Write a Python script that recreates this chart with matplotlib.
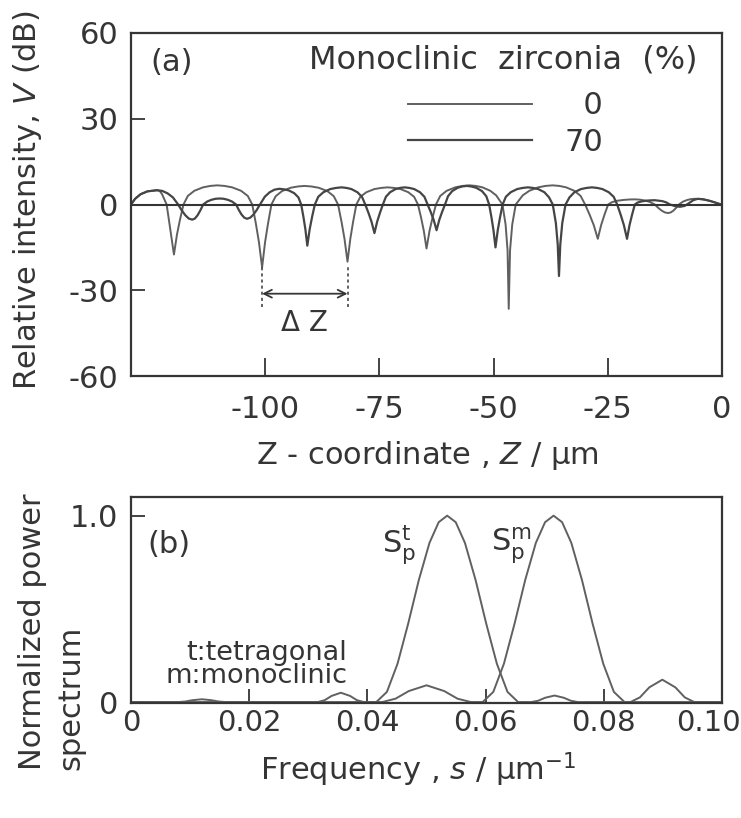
import matplotlib
matplotlib.use('Agg')
import matplotlib.pyplot as plt
from matplotlib.lines import Line2D
from matplotlib.transforms import ScaledTranslation

# (a) V(z) curves: Z in um, V in dB
z_0 = [-129.4, -128.5, -127.3, -125.8, -123.7, -123.1, -122.6, -122.1, -121.6, -121.0, -120.5, -120.0,
       -119.335, -118.67, -117.91, -116.96, -115.535, -113.635, -112.02, -110.5,
       -108.932, -107.266, -105.306, -103.836, -102.856, -102.072, -101.386, -100.7,
       -100.049, -99.398, -98.654, -97.724, -96.329, -94.469, -92.888, -91.4,
       -89.896, -88.298, -86.418, -85.008, -84.068, -83.316, -82.658, -82.0,
       -81.384, -80.768, -80.064, -79.184, -77.864, -76.104, -74.608, -73.2,
       -71.84, -70.395, -68.695, -67.42, -66.57, -65.89, -65.295, -64.7,
       -64.042, -63.384, -62.632, -61.692, -60.282, -58.402, -56.804, -55.3,
       -53.924, -52.462, -50.742, -49.452, -48.076, -47.388, -46.958, -46.7,
       -46.412, -45.932, -45.164, -43.628, -42.188, -40.268, -38.636, -37.1,
       -35.615, -34.13, -32.348, -30.962, -29.972, -28.982, -28.091, -27.2,
       -26.471, -25.742, -24.932, -24.122, -22.988, -21.53, -20.315, -19.1,
       -18.005, -16.91, -15.815, -14.72, -13.99, -13.26, -12.53, -11.8,
       -11.21, -10.62, -10.03, -9.44, -8.555, -7.67, -6.785, -5.9,
       -4.5, -3.0, -1.5, -0.2]
v_0 = [0.0, 2.0, 3.6, 4.6, 5.0, 4.7, 3.6, 1.8, 0.0, -6.5, -12.0, -17.5,
       -10.5, -5.25, 0.0, 3.0, 4.8, 6.0, 6.5, 6.7,
       6.5, 6.0, 4.8, 3.0, 0.0, -6.6, -13.2, -22.0,
       -13.2, -6.6, 0.0, 2.9, 4.7, 5.85, 6.3, 6.5,
       6.3, 5.85, 4.7, 2.9, 0.0, -6.0, -12.0, -20.0,
       -12.0, -6.0, 0.0, 2.7, 4.3, 5.4, 5.8, 6.0,
       5.8, 5.4, 4.3, 2.7, 0.0, -4.6, -9.2, -15.4,
       -9.2, -4.6, 0.0, 3.0, 4.8, 6.0, 6.5, 6.7,
       6.5, 6.0, 4.8, 3.2, 0.0, -7.0, -16.0, -36.5,
       -16.0, -7.0, 0.0, 3.2, 4.8, 6.0, 6.5, 6.7,
       6.5, 6.0, 4.8, 3.0, 0.0, -3.6, -7.2, -12.0,
       -7.2, -3.6, 0.0, 0.8, 1.3, 1.6, 1.75, 1.8,
       1.7, 1.4, 0.9, 0.0, -1.14, -2.1, -2.76, -3.0,
       -2.76, -2.1, -1.14, 0.0, 1.0, 1.56, 1.9, 2.0,
       1.85, 1.4, 0.7, 0.0]

z_70 = [-129.4, -128.5, -127.3, -125.8, -123.7,
        -122.545, -121.39, -120.235, -119.08, -118.31, -117.54, -116.77, -116.0,
        -115.4, -114.8, -114.2, -113.6, -112.7, -111.8, -110.9, -110.0,
        -109.1, -108.2, -107.3, -106.4, -105.8, -105.2, -104.6, -104.0,
        -103.29, -102.58, -101.87, -101.16, -100.095, -99.03, -97.965, -96.9,
        -95.924, -94.887, -93.667, -92.752, -92.142, -91.654, -91.227, -90.8,
        -90.275, -89.75, -89.15, -88.4, -87.275, -85.775, -84.5, -83.3,
        -82.22, -81.14, -79.844, -78.836, -78.116, -77.396, -76.748, -76.1,
        -75.506, -74.912, -74.252, -73.592, -72.668, -71.48, -70.49, -69.5,
        -68.45, -67.4, -66.14, -65.16, -64.46, -63.76, -63.13, -62.5,
        -61.906, -61.312, -60.652, -59.992, -59.068, -57.88, -56.89, -55.9,
        -54.892, -53.821, -52.561, -51.616, -50.986, -50.482, -50.041, -49.6,
        -49.103, -48.606, -48.038, -47.328, -46.263, -44.843, -43.636, -42.5,
        -41.412, -40.256, -38.896, -37.876, -37.06, -36.38, -35.972, -35.7,
        -35.412, -34.98, -34.26, -33.396, -32.316, -30.876, -29.652, -28.5,
        -27.345, -26.19, -24.804, -23.726, -22.956, -22.186, -21.493, -20.8,
        -20.251, -19.702, -19.092, -18.482, -17.628, -16.53, -15.615, -14.7,
        -13.05, -12.225, -11.4, -10.3, -9.2,
        -8.2, -7.3, -6.3, -5.3, -4.0, -2.5, -1.2, -0.2]
v_70 = [0.0, 2.0, 3.6, 4.6, 5.0,
        4.75, 3.9, 2.5, 0.0, -2.0, -3.7, -4.9, -5.3,
        -4.9, -3.7, -2.0, 0.0, 1.05, 1.64, 2.0, 2.1,
        2.0, 1.64, 1.05, 0.0, -1.9, -3.5, -4.6, -5.0,
        -4.6, -3.5, -1.9, 0.0, 2.75, 4.3, 5.2, 5.5,
        5.3, 4.95, 3.96, 2.5, 0.0, -4.3, -8.6, -14.4,
        -8.6, -4.3, 0.0, 2.7, 4.3, 5.4, 5.8, 6.0,
        5.8, 5.4, 4.3, 2.7, 0.0, -3.0, -6.0, -10.0,
        -6.0, -3.0, 0.0, 2.7, 4.3, 5.4, 5.8, 6.0,
        5.8, 5.4, 4.3, 2.7, 0.0, -2.7, -5.4, -9.0,
        -5.4, -2.7, 0.0, 2.9, 4.7, 5.85, 6.3, 6.5,
        6.3, 5.85, 4.7, 2.9, 0.0, -4.5, -9.0, -15.0,
        -9.0, -4.5, 0.0, 2.7, 4.3, 5.4, 5.8, 6.0,
        5.8, 5.4, 4.3, 2.5, 0.0, -6.5, -14.0, -25.0,
        -14.0, -6.5, 0.0, 2.5, 4.3, 5.4, 5.8, 6.0,
        5.8, 5.4, 4.3, 2.7, 0.0, -3.6, -7.2, -12.0,
        -7.2, -3.6, 0.0, 0.68, 1.08, 1.35, 1.45, 1.5,
        1.17, 0.75, 0.0, -0.56, -0.8,
        -0.5, 0.4, 1.5, 2.0, 1.8, 1.2, 0.5, 0.0]

dz_span = (-100.7, -82.0)   # neighbouring dips marked as delta Z

# (b) normalized power spectra, s in 1/um
s_t = [0.0, 0.008, 0.0092, 0.0104, 0.012, 0.0136, 0.0148, 0.016,
       0.0316, 0.03277, 0.03394, 0.0355, 0.03706, 0.03823, 0.0394,
       0.0415, 0.0433, 0.0451, 0.0469, 0.0487, 0.0505, 0.05206, 0.0535,
       0.05494, 0.0565, 0.0583, 0.0601, 0.0619, 0.0637, 0.0655,
       0.0677, 0.06889, 0.07007, 0.07165, 0.07323, 0.07442, 0.0756, 0.1]
p_t = [0, 0, 0.003, 0.01, 0.015, 0.01, 0.003, 0,
       0, 0.01, 0.033, 0.05, 0.033, 0.01, 0,
       0, 0.0545, 0.206, 0.421, 0.655, 0.854, 0.965, 1.0,
       0.965, 0.854, 0.655, 0.421, 0.206, 0.0545, 0,
       0, 0.007, 0.023, 0.035, 0.023, 0.007, 0, 0]

s_m = [0.0, 0.0425, 0.04475, 0.047, 0.05, 0.053, 0.05525, 0.0575,
       0.0595, 0.0613, 0.0631, 0.0649, 0.0667, 0.0685, 0.07006, 0.0715,
       0.07294, 0.0745, 0.0763, 0.0781, 0.0799, 0.0817, 0.0835,
       0.0845, 0.0861, 0.0877, 0.0899, 0.0921, 0.0937, 0.0953, 0.1]
p_m = [0, 0, 0.018, 0.059, 0.09, 0.059, 0.018, 0,
       0, 0.0545, 0.206, 0.421, 0.655, 0.854, 0.965, 1.0,
       0.965, 0.854, 0.655, 0.421, 0.206, 0.0545, 0,
       0, 0.025, 0.079, 0.12, 0.079, 0.025, 0, 0]

z_ticks = [-100, -75, -50, -25, 0]
v_ticks = [-60, -30, 0, 30, 60]
s_ticks = [0, 0.02, 0.04, 0.06, 0.08, 0.10]
s_labels = ['0', '0.02', '0.04', '0.06', '0.08', '0.10']

ink = '#353535'
c0 = '#606060'
c70 = '#454545'
fs = 22

plt.rcParams['font.family'] = 'DejaVu Sans'
plt.rcParams['mathtext.fontset'] = 'dejavusans'
plt.rcParams['text.color'] = ink

fig = plt.figure(figsize=(7.41, 8.18), dpi=100)
ax1 = fig.add_axes([0.1768, 0.5403, 0.7976, 0.4194])
ax2 = fig.add_axes([0.1768, 0.1406, 0.7976, 0.2518])

for ax in (ax1, ax2):
    for sp in ax.spines.values():
        sp.set_linewidth(1.6)
        sp.set_color(ink)
    ax.tick_params(direction='in', colors=ink, labelsize=fs, width=1.3)

# ---- panel (a)
ax1.plot(z_0, v_0, color=c0, lw=1.4)
ax1.plot(z_70, v_70, color=c70, lw=1.6)
ax1.axhline(0, color=ink, lw=1.5)
ax1.set_xlim(-129.4, 0)
ax1.set_ylim(-60, 60)
ax1.set_xticks(z_ticks)
ax1.set_xticklabels([str(t) for t in z_ticks])
ax1.set_yticks(v_ticks)
ax1.set_yticklabels([str(t) for t in v_ticks])
ax1.tick_params(axis='x', length=13, pad=14)
ax1.tick_params(axis='y', length=10, pad=9)

ax1.text(-120.4, 49.5, '(a)', ha='center', va='center', fontsize=fs)
ax1.text(-5.3, 50.5, 'Monoclinic  zirconia  (%)', ha='right', va='center', fontsize=23)
handles = [Line2D([], [], color=c0, lw=1.4), Line2D([], [], color=c70, lw=1.6)]
ax1.legend(handles, ['\u20070', '70'], loc='center', bbox_to_anchor=(-47.4, 28.1),
           bbox_transform=ax1.transData, frameon=False, fontsize=fs,
           handlelength=4.05, handletextpad=1.05, labelspacing=0.24,
           borderpad=0, borderaxespad=0, labelcolor=ink)

ax1.vlines(dz_span, -36, -21, colors=ink, linestyles=(0, (2, 2)), lw=1.1)
ax1.annotate('', xy=(dz_span[1], -31.2), xytext=(dz_span[0], -31.2),
             arrowprops=dict(arrowstyle='<->', color=ink, lw=1.3,
                             shrinkA=0, shrinkB=0, mutation_scale=14))
ax1.text(sum(dz_span) / 2, -41.5, '\u0394 Z', ha='center', va='center', fontsize=20)

# ---- panel (b)
ax2.plot(s_t, p_t, color=c0, lw=1.4)
ax2.plot(s_m, p_m, color=c0, lw=1.4)
ax2.set_xlim(0, 0.1)
ax2.set_ylim(-0.005, 1.10)
ax2.set_xticks(s_ticks)
ax2.set_xticklabels(s_labels)
ax2.set_yticks([0, 1.0])
ax2.set_yticklabels(['0', '1.0'])
ax2.tick_params(axis='x', length=10, pad=4, labelsize=21)
ax2.tick_params(axis='y', length=10, pad=9)
last = ax2.xaxis.get_major_ticks()[-1].label1
last.set_transform(last.get_transform() + ScaledTranslation(-0.14, 0, fig.dpi_scale_trans))

ax2.text(0.0064, 0.845, '(b)', ha='center', va='center', fontsize=fs)
ax2.text(0.0454, 0.84, r'$\mathregular{S_p^t}$', ha='center', va='center', fontsize=fs)
ax2.text(0.0644, 0.84, r'$\mathregular{S_p^m}$', ha='center', va='center', fontsize=fs)
ax2.text(0.0366, 0.2, 't:tetragonal\nm:monoclinic', ha='right', va='center',
         multialignment='right', linespacing=0.85, fontsize=19.5)

# ---- axis titles
fig.text(28 / 741, 1 - 200 / 818, r'Relative intensity, $\mathit{V}$ (dB)',
         rotation=90, ha='center', va='center', fontsize=fs)
fig.text(427 / 741, 1 - 455 / 818, r'Z - coordinate , $\mathit{Z}$ / µm',
         ha='center', va='center', fontsize=fs)
fig.text(33 / 741, 1 - 770 / 818, 'Normalized power', rotation=90,
         ha='center', va='bottom', fontsize=fs)
fig.text(71 / 741, 1 - 770 / 818, 'spectrum', rotation=90,
         ha='center', va='bottom', fontsize=fs)
fig.text(418 / 741, 1 - 770 / 818, r'Frequency , $\mathit{s}$ / µm$^{-1}$',
         ha='center', va='center', fontsize=fs)

fig.savefig('out.png', dpi=100, facecolor='white')
